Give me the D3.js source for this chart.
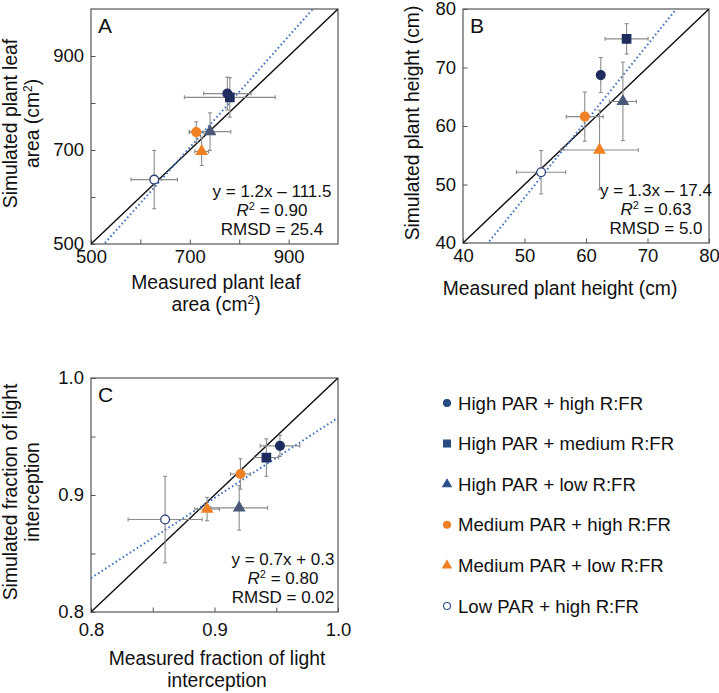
<!DOCTYPE html>
<html><head><meta charset="utf-8">
<script src="https://cdn.jsdelivr.net/npm/d3@7"></script>
<style>
body{margin:0;background:#fff;}
text{font-family:"Liberation Sans",Arial,Helvetica,sans-serif;fill:#111;}
</style></head>
<body><svg id="chart" width="719" height="693"></svg>
<script>
// ---- data ----
const treatments = ["High PAR + high R:FR","High PAR + medium R:FR","High PAR + low R:FR","Medium PAR + high R:FR","Medium PAR + low R:FR","Low PAR + high R:FR"];
const shapes = ["circle","square","triangle","circle","triangle","circle"];
const fills = ["#1e2d5e","#1e2d5e","#4b5979","#f08124","#f08124","#ffffff"];
const strokes = ["#1e2d5e","#1e2d5e","#4b5979","#f08124","#f08124","#2b3f7a"];
const legendFills = ["#274a80","#274a80","#2b4f8a","#ee8126","#ee8126","#ffffff"];
const legendStrokes = ["#274a80","#274a80","#2b4f8a","#ee8126","#ee8126","#2b4f8a"];

// Panel A: leaf area (cm2)
const measA = [776, 781, 741, 713, 724, 628];
const measErrA = [48, 92, 42, 14, 14, 47];
const simA = [820, 812, 739, 738, 697, 637];
const simErrA = [35, 42, 40, 22, 30, 62];
// Panel B: plant height (cm)
const measB = [62.4, 66.6, 66.0, 59.8, 62.2, 52.7];
const measErrB = [0.4, 3.5, 2.2, 3.0, 6.3, 4.0];
const simB = [68.7, 74.9, 64.2, 61.6, 55.9, 52.1];
const simErrB = [3.0, 2.6, 6.7, 4.2, 6.8, 3.7];
// Panel C: fraction of light interception
const measC = [0.953, 0.942, 0.920, 0.921, 0.894, 0.860];
const measErrC = [0.016, 0.010, 0.023, 0.008, 0.010, 0.030];
const simC = [0.942, 0.932, 0.889, 0.918, 0.888, 0.879];
const simErrC = [0.009, 0.016, 0.019, 0.013, 0.010, 0.037];

const domains = [[500,1000],[40,80],[0.8,1.0]];
const ticksA = [500,600,700,800,900]; const tickLabelsA = ["500","","700","","900"];
const ticksB = [40,50,60,70,80]; const tickLabelsB = ["40","50","60","70","80"];
const ticksC = [0.8,0.85,0.9,0.95,1.0]; const tickLabelsC = ["0.8","","0.9","","1.0"];
const slopes = [1.183, 1.307, 0.685];
const intercepts = [-122.8, -17.6, 0.281];
const eqLines = [["y = 1.2x \u2013 111.5","0.90","RMSD = 25.4"],["y = 1.3x \u2013 17.4","0.63","RMSD = 5.0"],["y = 0.7x + 0.3","0.80","RMSD = 0.02"]];
const panelLetters = ["A","B","C"];
const yTitles = [["Simulated plant leaf","area (cm\u00B2)"],["Simulated plant height (cm)"],["Simulated fraction of light","interception"]];
const xTitles = [["Measured plant leaf","area (cm\u00B2)"],["Measured plant height (cm)"],["Measured fraction of light","interception"]];

// ---- layout ----
const svg = d3.select("#chart");
const panels = [
  {x0:91,x1:338,y0:9,y1:244, mx:measA,mxe:measErrA,sy:simA,sye:simErrA,ticks:ticksA,labels:tickLabelsA, xpad:6, ytx:[17,39], eqx:272, xtY:[289,311], xtc:216},
  {x0:463,x1:709,y0:9,y1:243, mx:measB,mxe:measErrB,sy:simB,sye:simErrB,ticks:ticksB,labels:tickLabelsB, xpad:6, ytx:[419], eqx:656, xtY:[295], xtc:560},
  {x0:91,x1:338,y0:378,y1:612, mx:measC,mxe:measErrC,sy:simC,sye:simErrC,ticks:ticksC,labels:tickLabelsC, xpad:11, ytx:[17,39], eqx:283, xtY:[665,687], xtc:217}
];
const symType = {circle:d3.symbolCircle, square:d3.symbolSquare, triangle:d3.symbolTriangle};
const symSize = {circle:60, square:70, triangle:48};
const legSize = {circle:38, square:48, triangle:32};

panels.forEach((p,k)=>{
  const dom = domains[k];
  const x = d3.scaleLinear().domain(dom).range([p.x0,p.x1]);
  const y = d3.scaleLinear().domain(dom).range([p.y1,p.y0]);
  const g = svg.append("g");
  const clipId = "clip"+k;
  g.append("clipPath").attr("id",clipId).append("rect")
    .attr("x",p.x0).attr("y",p.y0).attr("width",p.x1-p.x0).attr("height",p.y1-p.y0);

  // axes (inward ticks)
  const ax = g.append("g").attr("transform",`translate(0,${p.y1})`)
    .call(d3.axisBottom(x).tickValues(p.ticks).tickFormat((d,i)=>p.labels[i]).tickSizeInner(-4.5).tickSizeOuter(0).tickPadding(p.xpad));
  const ay = g.append("g").attr("transform",`translate(${p.x0},0)`)
    .call(d3.axisLeft(y).tickValues(p.ticks).tickFormat((d,i)=>p.labels[i]).tickSizeInner(-4.5).tickSizeOuter(0).tickPadding(7));
  [ax,ay].forEach(a=>{
    a.select(".domain").remove();
    a.selectAll(".tick line").attr("stroke","#555").attr("stroke-width",1);
    a.selectAll(".tick text").attr("font-size",18.5).attr("fill","#111")
      .attr("font-family","Liberation Sans, Arial, sans-serif");
  });

  // frame
  g.append("rect").attr("x",p.x0).attr("y",p.y0).attr("width",p.x1-p.x0).attr("height",p.y1-p.y0)
    .attr("fill","none").attr("stroke","#555").attr("stroke-width",1.2);

  const cg = g.append("g").attr("clip-path",`url(#${clipId})`);
  // 1:1 line
  cg.append("line").attr("x1",x(dom[0])).attr("y1",y(dom[0])).attr("x2",x(dom[1])).attr("y2",y(dom[1]))
    .attr("stroke","#111").attr("stroke-width",1.4);
  // regression line
  cg.append("line").attr("x1",x(dom[0])).attr("y1",y(slopes[k]*dom[0]+intercepts[k]))
    .attr("x2",x(dom[1])).attr("y2",y(slopes[k]*dom[1]+intercepts[k]))
    .attr("stroke","#4472c4").attr("stroke-width",2).attr("stroke-dasharray","1.6,2.6");

  // error bars
  const cap = 2;
  const eb = g.append("g").attr("stroke","#8c8c8c").attr("stroke-width",1.1);
  p.mx.forEach((mv,i)=>{
    const cx = x(mv), cy = y(p.sy[i]);
    const xl = x(mv - p.mxe[i]), xr = x(mv + p.mxe[i]);
    const yt = y(p.sy[i] + p.sye[i]), yb = y(p.sy[i] - p.sye[i]);
    eb.append("line").attr("x1",xl).attr("x2",xr).attr("y1",cy).attr("y2",cy);
    eb.append("line").attr("x1",xl).attr("x2",xl).attr("y1",cy-cap).attr("y2",cy+cap);
    eb.append("line").attr("x1",xr).attr("x2",xr).attr("y1",cy-cap).attr("y2",cy+cap);
    eb.append("line").attr("x1",cx).attr("x2",cx).attr("y1",yt).attr("y2",yb);
    eb.append("line").attr("x1",cx-cap).attr("x2",cx+cap).attr("y1",yt).attr("y2",yt);
    eb.append("line").attr("x1",cx-cap).attr("x2",cx+cap).attr("y1",yb).attr("y2",yb);
  });
  // markers
  p.mx.forEach((mv,i)=>{
    g.append("path").attr("d",d3.symbol().type(symType[shapes[i]]).size(symSize[shapes[i]])())
      .attr("transform",`translate(${x(mv)},${y(p.sy[i])})`)
      .attr("fill",fills[i]).attr("stroke",strokes[i]).attr("stroke-width",1.3);
  });

  // panel letter
  g.append("text").attr("x",p.x0+7).attr("y",p.y0+24).attr("font-size",21).text(panelLetters[k]);

  // equation text
  const eq = g.append("g").attr("font-size",17).attr("text-anchor","middle");
  eq.append("text").attr("x",p.eqx).attr("y",p.y1-47).text(eqLines[k][0]);
  const r2 = eq.append("text").attr("x",p.eqx).attr("y",p.y1-28);
  r2.append("tspan").attr("font-style","italic").text("R");
  r2.append("tspan").attr("font-size",11).attr("dy",-6).text("2");
  r2.append("tspan").attr("dy",6).text(" = "+eqLines[k][1]);
  eq.append("text").attr("x",p.eqx).attr("y",p.y1-9).text(eqLines[k][2]);

  // axis titles
  const cym = (p.y0+p.y1)/2;
  xTitles[k].forEach((t,j)=>{
    const tx = g.append("text").attr("x",p.xtc).attr("y",p.xtY[j]).attr("text-anchor","middle").attr("font-size",19.3);
    addSup(tx,t);
  });
  yTitles[k].forEach((t,j)=>{
    const tx = g.append("text").attr("transform",`translate(${p.ytx[j]},${cym-3}) rotate(-90)`)
      .attr("text-anchor","middle").attr("font-size",19.3);
    addSup(tx,t);
  });
});

function addSup(sel, t){
  const idx = t.indexOf("\u00B2");
  if(idx<0){ sel.text(t); return; }
  sel.append("tspan").text(t.slice(0,idx));
  sel.append("tspan").attr("font-size",12).attr("dy",-7).text("2");
  sel.append("tspan").attr("dy",7).text(t.slice(idx+1));
}

// legend
const lg = svg.append("g");
treatments.forEach((t,i)=>{
  const yy = 403 + i*40.6;
  lg.append("path").attr("d",d3.symbol().type(symType[shapes[i]]).size(legSize[shapes[i]])())
    .attr("transform",`translate(447,${yy})`)
    .attr("fill",legendFills[i]).attr("stroke",legendStrokes[i]).attr("stroke-width",1.1);
  lg.append("text").attr("x",458).attr("y",yy).attr("dy","0.36em").attr("font-size",18.6).text(t);
});
</script></body></html>
